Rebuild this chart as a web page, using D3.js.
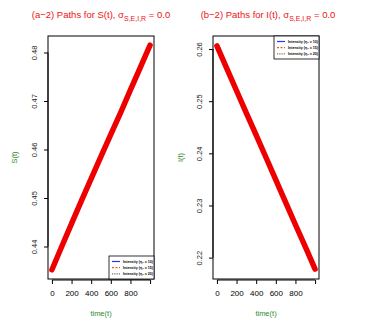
<!DOCTYPE html>
<html>
<head>
<meta charset="utf-8">
<script src="https://cdn.jsdelivr.net/npm/d3@7"></script>
<style>
  body { margin: 0; background: #fff; }
  text { font-family: "Liberation Sans", Arial, sans-serif; }
</style>
</head>
<body>
<div id="chart"></div>
<script>
// time grid (read every 100 units)
const times = [0, 100, 200, 300, 400, 500, 600, 700, 800, 900, 1000];
const sValues = [0.4352, 0.4400, 0.4447, 0.4494, 0.4540, 0.4586, 0.4631, 0.4676, 0.4723, 0.4769, 0.4815];
const iValues = [0.2606, 0.2563, 0.2520, 0.2477, 0.2435, 0.2392, 0.2349, 0.2306, 0.2263, 0.2221, 0.2178];
const xTicks = [0, 200, 400, 600, 800, 1000];
const xTickLabels = ["0", "200", "400", "600", "800", ""];
const sTicks = [0.44, 0.45, 0.46, 0.47, 0.48];
const iTicks = [0.22, 0.23, 0.24, 0.25, 0.26];
const legendLabels = ["Intensity (\u03b7\u2081 = 10)", "Intensity (\u03b7\u2081 = 15)", "Intensity (\u03b7\u2081 = 20)"];
const legendColors = ["#3030ff", "#e8592a", "#555"];
const legendDash = [null, "2,1.5", "0.8,1"];

const svg = d3.select("#chart")
  .append("svg")
  .attr("width", 381)
  .attr("height", 328);

function drawPanel(opts) {
  const left = opts.left, right = opts.right, top = 36, bottom = 279;

  const x = d3.scaleLinear().domain([-40, 1040]).range([left, right]);
  const y = d3.scaleLinear().domain(opts.domain).range([bottom, top]);

  const g = svg.append("g");

  // data path
  const line = d3.line()
    .x((d, i) => x(times[i]))
    .y(d => y(d));

  g.append("path")
    .datum(opts.values)
    .attr("d", line)
    .attr("fill", "none")
    .attr("stroke", "#ee0000")
    .attr("stroke-width", 5.5)
    .attr("stroke-linecap", "round");

  // box
  g.append("rect")
    .attr("x", left)
    .attr("y", top)
    .attr("width", right - left)
    .attr("height", bottom - top)
    .attr("fill", "none")
    .attr("stroke", "#000")
    .attr("stroke-width", 1);

  // x axis
  const xAxis = d3.axisBottom(x)
    .tickValues(xTicks)
    .tickFormat((d, i) => xTickLabels[i])
    .tickSize(4)
    .tickSizeOuter(0)
    .tickPadding(6);

  const gx = g.append("g")
    .attr("transform", `translate(0,${bottom + 1})`)
    .call(xAxis);
  gx.select(".domain")
    .attr("d", `M${x(0)},0H${x(1000)}`);
  gx.selectAll("text")
    .attr("font-size", 8)
    .attr("font-family", "Liberation Sans, Arial, sans-serif")
    .attr("fill", "#000");

  // y axis
  const yAxis = d3.axisLeft(y)
    .tickValues(opts.ticks)
    .tickFormat(d3.format(".2f"))
    .tickSize(4)
    .tickSizeOuter(0);

  const gy = g.append("g")
    .attr("transform", `translate(${left},0)`)
    .call(yAxis);
  gy.select(".domain")
    .attr("d", `M0,${y(opts.ticks[0])}V${y(opts.ticks[opts.ticks.length - 1])}`);
  gy.selectAll(".tick text")
    .attr("x", null)
    .attr("dy", null)
    .attr("transform", "translate(-11,0) rotate(-90)")
    .attr("text-anchor", "middle")
    .attr("font-size", 7.5)
    .attr("font-family", "Liberation Sans, Arial, sans-serif")
    .attr("fill", "#222");

  // title
  const title = svg.append("text")
    .attr("x", opts.titleX)
    .attr("y", 18)
    .attr("text-anchor", "middle")
    .attr("font-size", 9.5)
    .attr("fill", "#ee1111");
  title.append("tspan").text(opts.titleText + "\u03c3");
  title.append("tspan")
    .attr("dy", 2.5)
    .attr("font-size", 7)
    .text("S,E,I,R");
  title.append("tspan")
    .attr("dy", -2.5)
    .text(" = 0.0");

  // axis labels
  svg.append("text")
    .attr("x", (left + right) / 2)
    .attr("y", 316)
    .attr("text-anchor", "middle")
    .attr("font-size", 7.5)
    .attr("fill", "#2e8b2e")
    .text("time(t)");

  svg.append("text")
    .attr("transform", `translate(${opts.ylabX},${(top + bottom) / 2}) rotate(-90)`)
    .attr("text-anchor", "middle")
    .attr("font-size", 7.5)
    .attr("fill", "#2e8b2e")
    .text(opts.ylab);

  // legend
  const lw = 45, lh = 23;
  const lx = right - lw;
  const ly = opts.legendTop ? top : bottom - lh;
  const leg = svg.append("g").attr("transform", `translate(${lx},${ly})`);
  leg.append("rect")
    .attr("width", lw)
    .attr("height", lh)
    .attr("fill", "#fff")
    .attr("stroke", "#000")
    .attr("stroke-width", 0.8);
  legendLabels.forEach((lab, i) => {
    const yy = 5.5 + i * 6.2;
    leg.append("line")
      .attr("x1", 3).attr("x2", 11)
      .attr("y1", yy).attr("y2", yy)
      .attr("stroke", legendColors[i])
      .attr("stroke-width", 1.2)
      .attr("stroke-dasharray", legendDash[i]);
    leg.append("text")
      .attr("x", 14)
      .attr("y", yy + 1.3)
      .attr("font-size", 3.6)
      .attr("font-weight", "bold")
      .attr("fill", "#000")
      .text(lab);
  });
}

drawPanel({
  left: 48, right: 154,
  domain: [0.4333, 0.4834],
  ticks: sTicks,
  values: sValues,
  titleText: "(a\u22122) Paths for S(t), ",
  titleX: 101,
  ylab: "S(t)",
  ylabX: 17,
  legendTop: false
});

drawPanel({
  left: 213, right: 319,
  domain: [0.2159, 0.2625],
  ticks: iTicks,
  values: iValues,
  titleText: "(b\u22122)  Paths for I(t), ",
  titleX: 268,
  ylab: "I(t)",
  ylabX: 183,
  legendTop: true
});
</script>
</body>
</html>
